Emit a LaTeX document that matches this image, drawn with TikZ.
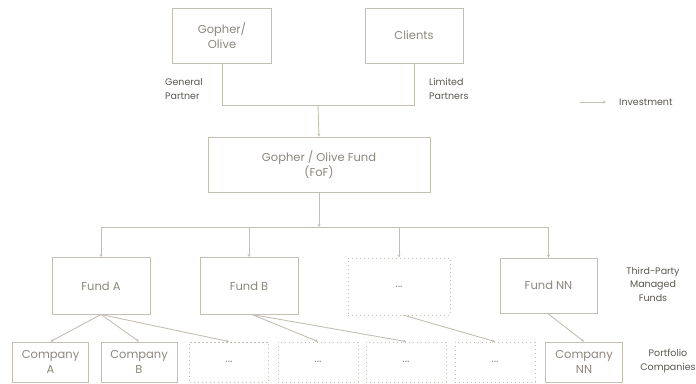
\documentclass[tikz,border=0pt]{standalone}
\usepackage{fontspec}
\setmainfont{Poppins}
\usetikzlibrary{arrows.meta}
\definecolor{lineC}{RGB}{196,191,180}
\definecolor{boxtxt}{RGB}{140,135,125}
\definecolor{labtxt}{RGB}{90,87,80}
\tikzset{
  box/.style={draw=lineC, line width=0.9pt, rectangle, inner sep=0pt, align=center,
    text=boxtxt, font=\fontsize{11.5}{15}\selectfont},
  dotbox/.style={box, dash pattern=on 1.4pt off 2.6pt},
  conn/.style={draw=lineC, line width=0.9pt},
  arr/.style={conn, -{Stealth[length=3pt,width=3pt]}},
  lab/.style={text=labtxt, align=center, font=\fontsize{9.5}{13.5}\selectfont, inner sep=0pt},
}
\begin{document}
\begin{tikzpicture}[x=1pt,y=-1pt]
\useasboundingbox (0,0) rectangle (696,383);
% top
\node[box, minimum width=99pt, minimum height=55pt] (gopher) at (222,35.5) {Gopher/\\Olive};
\node[box, minimum width=98pt, minimum height=55pt] (clients) at (414,35.5) {Clients};
\node[lab, align=left, anchor=west] (gp) at (165,89) {General\\Partner};
\node[lab, align=left, anchor=west] (lp) at (429,89) {Limited\\Partners};
\coordinate (jl) at (222,105);
\coordinate (jr) at (414,105);
\coordinate (jm) at (318,105);
\draw[conn] (gopher.south) -- (jl) -- (jr) -- (clients.south);
% legend
\coordinate (lg1) at (580,102);
\coordinate (lg2) at (606,102);
\draw[arr] (lg1) -- (lg2);
\node[lab, anchor=west] (inv) at (619,102) {Investment};
% fof
\node[box, minimum width=222pt, minimum height=55pt] (fof) at (319,164.5) {Gopher / Olive Fund\\(FoF)};
\draw[arr] (jm) -- (fof.north);
\coordinate (bm) at (319,227);
\draw[arr] (fof.south) -- (bm);
% funds
\node[box, minimum width=98pt, minimum height=57pt] (fa) at (101,286) {Fund A};
\node[box, minimum width=98pt, minimum height=57pt] (fb) at (249,286) {Fund B};
\node[dotbox, minimum width=102pt, minimum height=57pt] (fd) at (399,286.5) {...};
\node[box, minimum width=97pt, minimum height=55pt] (fn) at (548.5,285.5) {Fund NN};
\coordinate (ba) at (101,227);
\coordinate (bb) at (249,227);
\coordinate (bd) at (399,227);
\coordinate (bn) at (548.5,227);
\draw[conn] (ba) -- (bn);
\draw[arr] (ba) -- (fa.north);
\draw[arr] (bb) -- (fb.north);
\draw[arr] (bd) -- (fd.north);
\draw[arr] (bn) -- (fn.north);
\node[lab] (tp) at (653,284) {Third-Party\\Managed\\Funds};
% companies
\node[box, minimum width=76pt, minimum height=40pt] (ca) at (50.5,362) {Company\\A};
\node[box, minimum width=76pt, minimum height=40pt] (cb) at (139,362) {Company\\B};
\node[dotbox, minimum width=79pt, minimum height=40pt] (c1) at (229,362) {...};
\node[dotbox, minimum width=80pt, minimum height=40pt] (c2) at (318,362) {...};
\node[dotbox, minimum width=80pt, minimum height=40pt] (c3) at (406,362) {...};
\node[dotbox, minimum width=80pt, minimum height=40pt] (c4) at (495,362) {...};
\node[box, minimum width=77pt, minimum height=40pt] (cn) at (584,362) {Company\\NN};
\node[lab] (pc) at (668,361) {Portfolio\\Companies};
% investment lines
\coordinate (fao) at (101,314.5);
\coordinate (fbo) at (252,314.5);
\coordinate (fdo) at (403,315);
\coordinate (fno) at (547,313);
\draw[arr] (fao) -- (ca.north);
\draw[arr] (fao) -- (cb.north);
\draw[arr] (fao) -- (c1.north);
\draw[arr] (fbo) -- (c2.north);
\draw[arr] (fbo) -- (c3.north);
\draw[arr] (fdo) -- (c4.north);
\draw[arr] (fno) -- (cn.north);
\end{tikzpicture}
\end{document}
